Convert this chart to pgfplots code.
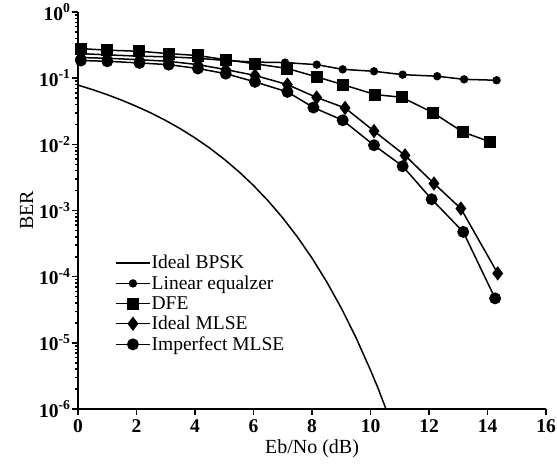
\documentclass[border=0pt]{standalone}
\usepackage{pgfplots}
\pgfplotsset{compat=1.18}
\usepackage{fontspec}
\setmainfont{Liberation Serif}
\begin{document}
\begin{tikzpicture}
\path[use as bounding box] (-78pt,-63pt) rectangle (479pt,409pt);
\begin{axis}[
  at={(0pt,0pt)}, anchor=south west,
  scale only axis, width=468pt, height=397pt,
  ymode=log, xmin=0, xmax=16, ymin=1e-6, ymax=1,
  clip=false,
  axis lines=left,
  axis line style={-, line width=1.8pt},
  every tick/.style={line width=1.5pt, black},
  tick align=outside, major tick length=6pt,
  minor tick num=0,
  xtick={0,2,...,16},
  ytick={1e-6,1e-5,1e-4,1e-3,1e-2,1e-1,1},
  yticklabels={\textbf{10}\textsuperscript{\textbf{-6}},\textbf{10}\textsuperscript{\textbf{-5}},\textbf{10}\textsuperscript{\textbf{-4}},\textbf{10}\textsuperscript{\textbf{-3}},\textbf{10}\textsuperscript{\textbf{-2}},\textbf{10}\textsuperscript{\textbf{-1}},\textbf{10}\textsuperscript{\textbf{0}}},
  xticklabels={\textbf{0},\textbf{2},\textbf{4},\textbf{6},\textbf{8},\textbf{10},\textbf{12},\textbf{14},\textbf{16}},
  tick label style={font=\fontsize{19.5}{22}\selectfont},
  yticklabel style={xshift=2pt},
  xticklabel style={yshift=-1pt},
  xlabel={Eb/No (dB)}, ylabel={BER},
  label style={font=\fontsize{20}{23}\selectfont},
  xlabel style={yshift=0pt},
  ylabel style={yshift=-1pt},
  legend style={draw=none, fill=none, at={(0.079,0.39)}, anchor=north west,
    font=\fontsize{19.5}{22}\selectfont, row sep=3.5pt, inner sep=0pt,
    nodes={inner sep=1pt}},
  legend cell align=left,
  legend image code/.code={\draw[mark repeat=2,mark phase=2,#1] plot coordinates {(0pt,0pt)(17pt,0pt)(34pt,0pt)};},
]
\addplot[black, line width=1.5pt, no marks] coordinates {
(0,0.0786)(0.5,0.0671)(1,0.0563)(1.5,0.0464)(2,0.0375)(2.5,0.0297)(3,0.0229)(3.5,0.0172)
(4,0.0125)(4.5,0.00880)(5,0.00595)(5.5,0.00386)(6,0.00239)(6.5,0.00140)(7,7.73e-4)
(7.5,3.99e-4)(8,1.91e-4)(8.5,8.40e-5)(9,3.36e-5)(9.5,1.21e-5)(10,3.87e-6)(10.25,2.1e-6)(10.53,1e-6)};
\addlegendentry{Ideal BPSK}
\addplot[black, line width=1.5pt, mark=*, mark size=3.4pt] coordinates {
(0.1,0.235)(1,0.225)(2.1,0.215)(3.1,0.21)(4.1,0.2)(5.05,0.185)(6.05,0.175)
(7.08,0.172)(8.16,0.160)(9.05,0.136)(10.12,0.127)(11.1,0.113)(12.28,0.107)(13.2,0.096)(14.31,0.093)};
\addlegendentry{Linear equalzer}
\addplot[black, line width=1.5pt, mark=square*, mark size=5.3pt] coordinates {
(0.1,0.28)(1,0.265)(2.1,0.255)(3.1,0.235)(4.1,0.22)(5.05,0.19)(6.05,0.165)
(7.16,0.140)(8.18,0.104)(9.05,0.080)(10.16,0.0565)(11.07,0.0514)(12.13,0.0302)(13.15,0.0154)(14.09,0.0109)};
\addlegendentry{DFE}
\addplot[black, line width=1.5pt, mark=diamond*, mark size=6pt] coordinates {
(0.1,0.205)(1,0.2)(2.1,0.19)(3.1,0.18)(4.1,0.16)(5.05,0.135)(6.05,0.11)
(7.16,0.080)(8.16,0.051)(9.13,0.0355)(10.12,0.0159)(11.18,6.8e-3)(12.17,2.56e-3)(13.09,1.07e-3)(14.35,1.12e-4)};
\addlegendentry{Ideal MLSE}
\addplot[black, line width=1.5pt, mark=*, mark size=5.2pt] coordinates {
(0.1,0.185)(1,0.18)(2.1,0.17)(3.1,0.16)(4.1,0.14)(5.05,0.117)(6.05,0.088)
(7.16,0.062)(8.05,0.036)(9.05,0.0231)(10.12,9.7e-3)(11.1,4.67e-3)(12.09,1.48e-3)(13.17,4.75e-4)(14.26,4.7e-5)};
\addlegendentry{Imperfect MLSE}
\end{axis}
\end{tikzpicture}
\end{document}
